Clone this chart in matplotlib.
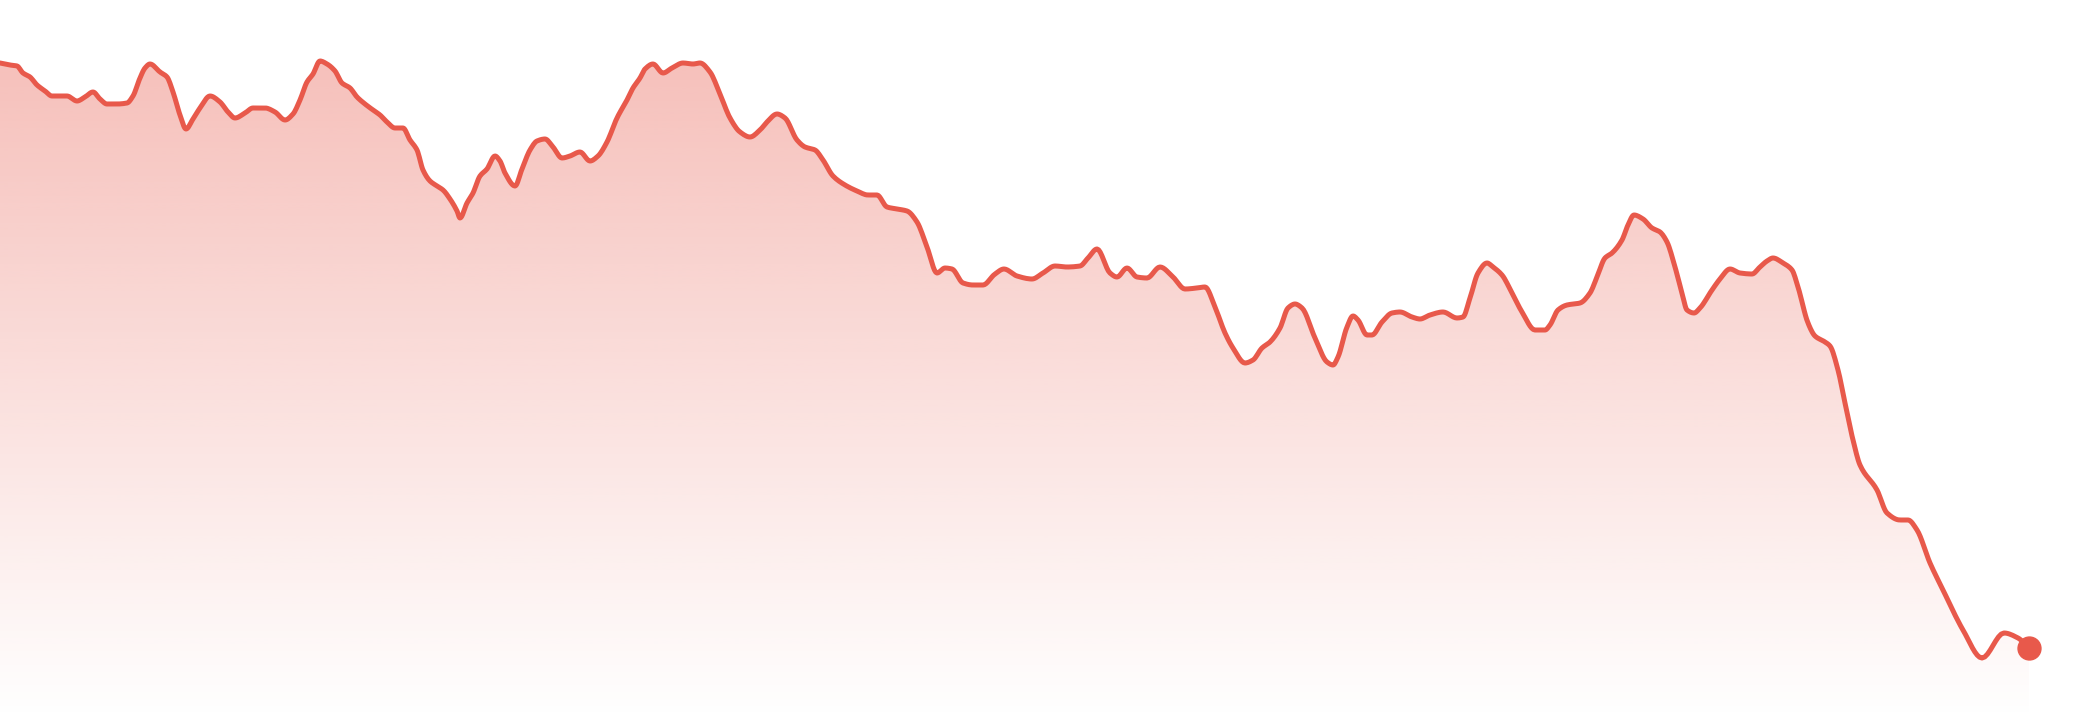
import numpy as np
import matplotlib
matplotlib.use("Agg")
import matplotlib.pyplot as plt
from matplotlib.patches import Polygon

# ---- data (time position, value) ----
x_pos = [0, 10, 17, 23, 30, 37, 45, 52, 60, 67, 77, 85, 93, 100, 107, 117, 127, 133, 140, 145,
         150, 160, 167, 173, 180, 186, 193, 200, 210, 220, 228, 235, 245, 253, 265, 275, 285, 293, 300, 307,
         313, 320, 327, 335, 342, 350, 357, 365, 373, 380, 387, 395, 403, 410, 417, 423, 430, 437, 443, 450,
         457, 460, 467, 473, 480, 487, 495, 500, 505, 515, 522, 530, 537, 545, 553, 562, 570, 580, 590, 598,
         607, 617, 627, 633, 640, 645, 653, 663, 672, 683, 693, 700, 710, 720, 730, 740, 750, 760, 767, 777,
         785, 797, 805, 815, 823, 833, 845, 857, 868, 877, 887, 897, 907, 917, 927, 937, 945, 952, 963, 973,
         983, 995, 1004, 1017, 1032, 1043, 1055, 1067, 1080, 1088, 1097, 1110, 1117, 1127, 1137, 1147, 1160, 1173, 1185, 1197,
         1205, 1215, 1225, 1233, 1245, 1253, 1262, 1270, 1280, 1288, 1295, 1302, 1315, 1327, 1333, 1338, 1347, 1353, 1358, 1367,
         1372, 1382, 1392, 1400, 1412, 1420, 1430, 1443, 1457, 1463, 1470, 1478, 1487, 1493, 1502, 1512, 1522, 1535, 1545, 1550,
         1558, 1567, 1580, 1590, 1597, 1605, 1612, 1622, 1628, 1634, 1643, 1652, 1660, 1667, 1675, 1682, 1687, 1694, 1700, 1712,
         1720, 1730, 1740, 1752, 1760, 1767, 1773, 1783, 1792, 1798, 1808, 1815, 1825, 1830, 1838, 1845, 1853, 1860, 1877, 1887,
         1900, 1908, 1917, 1930, 1943, 1963, 1982, 2004, 2018, 2029]

y_read = [63, 65, 66, 73, 77, 85, 91, 96, 96, 96, 101, 97, 92, 99, 104, 104, 103, 96, 78, 68,
          64, 72, 77, 92, 115, 129, 119, 108, 96, 102, 112, 118, 113, 108, 108, 112, 120, 114, 100, 82,
          74, 61, 64, 71, 83, 88, 97, 104, 110, 115, 122, 128, 128, 140, 150, 170, 181, 186, 190, 199,
          211, 218, 203, 193, 176, 169, 156, 161, 173, 186, 169, 150, 141, 139, 147, 158, 156, 152, 161, 156,
          142, 118, 100, 88, 78, 69, 64, 73, 68, 63, 64, 63, 72, 94, 118, 132, 137, 130, 122, 114,
          118, 140, 147, 150, 160, 176, 185, 191, 195, 195, 207, 209, 211, 222, 247, 273, 268, 269, 283, 285,
          285, 274, 269, 276, 279, 273, 266, 267, 266, 258, 249, 273, 277, 268, 277, 278, 267, 277, 289, 288,
          287, 307, 333, 348, 363, 360, 348, 342, 328, 308, 304, 308, 338, 362, 365, 357, 327, 316, 320, 335,
          335, 322, 313, 312, 317, 319, 315, 312, 318, 317, 298, 273, 263, 267, 275, 293, 312, 330, 330, 325,
          310, 305, 303, 293, 277, 258, 253, 240, 225, 215, 219, 228, 232, 242, 267, 293, 310, 313, 308, 290,
          279, 269, 273, 274, 267, 261, 258, 263, 270, 287, 323, 336, 342, 346, 370, 403, 440, 465, 490, 513,
          520, 520, 530, 563, 590, 630, 658, 633, 638, 648]

H = 720
values = [H - v for v in y_read]

LINE = "#E8594B"


def monotone_curve(x, y, n_per=8):
    x = np.asarray(x, float)
    y = np.asarray(y, float)
    h = np.diff(x)
    d = np.diff(y) / h
    m = np.zeros_like(y)
    m[0], m[-1] = d[0], d[-1]
    for i in range(1, len(y) - 1):
        if d[i - 1] * d[i] <= 0:
            m[i] = 0
        else:
            w1 = 2 * h[i] + h[i - 1]
            w2 = h[i] + 2 * h[i - 1]
            m[i] = (w1 + w2) / (w1 / d[i - 1] + w2 / d[i])
    xs, ys = [], []
    for i in range(len(x) - 1):
        t = np.linspace(0, 1, n_per, endpoint=False)
        h00 = 2 * t**3 - 3 * t**2 + 1
        h10 = t**3 - 2 * t**2 + t
        h01 = -2 * t**3 + 3 * t**2
        h11 = t**3 - t**2
        xs.append(x[i] + t * h[i])
        ys.append(h00 * y[i] + h10 * h[i] * m[i] + h01 * y[i + 1] + h11 * h[i] * m[i + 1])
    xs.append([x[-1]])
    ys.append([y[-1]])
    return np.concatenate(xs), np.concatenate(ys)


fig = plt.figure(figsize=(20.8, 7.2), dpi=100)
ax = fig.add_axes([0, 0, 1, 1])
ax.set_xlim(0, 2080)
ax.set_ylim(0, H)
ax.axis("off")

cx, cy = monotone_curve(x_pos, values)

# gradient fill under the curve
top_alpha = 0.38
grad_rows = 400
alpha_col = np.linspace(0, 1, grad_rows)  # bottom -> top
alpha_col = np.clip(alpha_col * H / (H - 60), 0, 1) * top_alpha
rgba = np.zeros((grad_rows, 2, 4))
rgba[..., 0] = 232 / 255
rgba[..., 1] = 89 / 255
rgba[..., 2] = 75 / 255
rgba[..., 3] = alpha_col[:, None]
img = ax.imshow(rgba, extent=[0, 2080, 0, H], origin="lower", aspect="auto",
                interpolation="bilinear", zorder=1)
poly_pts = np.vstack([np.column_stack([cx, cy]), [[cx[-1], 0], [cx[0], 0]]])
poly = Polygon(poly_pts, closed=True, facecolor="none", edgecolor="none")
ax.add_patch(poly)
img.set_clip_path(poly)

ax.plot(cx, cy, color=LINE, lw=3.6, solid_joinstyle="round", solid_capstyle="round", zorder=3)
ax.plot([x_pos[-1]], [values[-1]], "o", color=LINE, markersize=16.5, zorder=4)

fig.savefig("out.png", dpi=100, facecolor="white")
